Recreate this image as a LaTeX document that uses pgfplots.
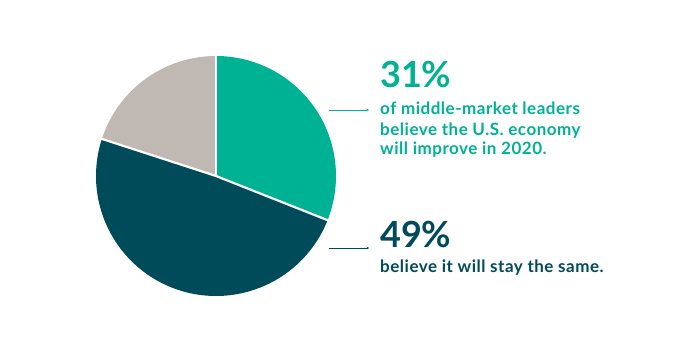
\documentclass[border=0pt]{standalone}
\usepackage{pgfplots}
\pgfplotsset{compat=1.18}
\usetikzlibrary{arrows.meta}
\usepackage{fontspec}
\setmainfont{Lato}
\newfontfamily\bodyfont{Lato}[LetterSpace=3.0]
\definecolor{cteal}{HTML}{00B294}
\definecolor{cdark}{HTML}{004B5A}
\definecolor{cgray}{HTML}{BFB8B3}
\begin{document}
\begin{tikzpicture}
\begin{axis}[x=1pt,y=1pt,xmin=0,xmax=700,ymin=0,ymax=350,hide axis,clip=false]
\path (axis cs:0,0) rectangle (axis cs:700,350);
\pgfplotsextra{%
  \gdef\pstart{90}%
  \foreach \v/\c in {31/cteal,49/cdark,20/cgray}{%
    \pgfmathsetmacro\pend{\pstart-\v*3.6}%
    \fill[\c] (axis cs:216,174) -- ++(\pstart:120pt) arc[start angle=\pstart,end angle=\pend,radius=120pt] -- cycle;
    \global\let\pstart\pend
  }%
  \foreach \a in {90,-21.6,162}{%
    \draw[white,line width=2.2pt] (axis cs:216,174) -- ++(\a:121pt);
  }%
}
\draw[cteal,line width=0.7pt,-{Stealth[length=2.5pt,width=2.5pt]}] (axis cs:329,240) -- (axis cs:369,240);
\draw[cdark,line width=0.7pt,-{Stealth[length=2.5pt,width=2.5pt]}] (axis cs:329,102) -- (axis cs:369,102);
\node[anchor=base west,inner sep=0pt,text=cteal,font=\fontsize{36}{36}\selectfont\bfseries] at (axis cs:380,262) {31\%};
\node[anchor=base west,inner sep=0pt,text=cteal,font=\fontsize{17}{17}\selectfont\bodyfont\bfseries] at (axis cs:380,235) {of middle-market leaders};
\node[anchor=base west,inner sep=0pt,text=cteal,font=\fontsize{17}{17}\selectfont\bodyfont\bfseries] at (axis cs:380,214.5) {believe the U.S. economy};
\node[anchor=base west,inner sep=0pt,text=cteal,font=\fontsize{17}{17}\selectfont\bodyfont\bfseries] at (axis cs:380,195) {will improve in 2020.};
\node[anchor=base west,inner sep=0pt,text=cdark,font=\fontsize{36}{36}\selectfont\bfseries] at (axis cs:380,102) {49\%};
\node[anchor=base west,inner sep=0pt,text=cdark,font=\fontsize{17}{17}\selectfont\bodyfont\bfseries] at (axis cs:380,77) {believe it will stay the same.};
\end{axis}
\end{tikzpicture}
\end{document}
